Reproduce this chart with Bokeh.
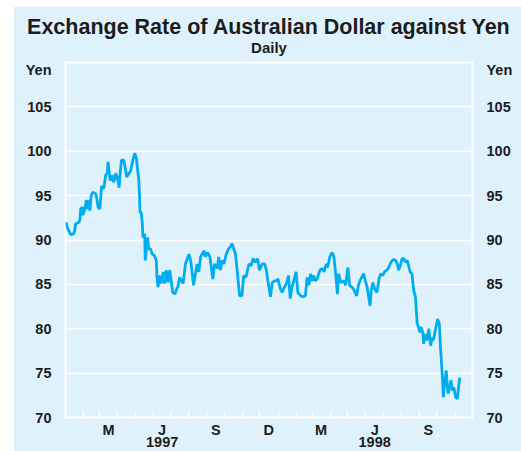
import pandas as pd
from bokeh.plotting import figure
from bokeh.layouts import column, row
from bokeh.models import Range1d, FixedTicker, LinearAxis, DatetimeAxis, ColumnDataSource, Spacer
from bokeh.embed import file_html
from bokeh.resources import INLINE

# ---------------- data ----------------
start_date = "1997-01-01"
end_date = "1998-12-01"

# days elapsed since 1 Jan 1997, and the A$ value in yen on that day
day_offset = [
    1, 3, 9, 14, 16, 17, 23, 25, 26, 29, 30, 33, 36, 37, 40, 42, 44, 47, 52, 54,
    56, 59, 62, 64, 66, 69, 72, 73, 76, 77, 80, 83, 86, 89, 92, 94, 96, 100, 103, 105,
    109, 112, 115, 119, 122, 124, 126, 127, 128, 130, 132, 133, 136, 137, 139, 141, 143, 146, 149, 152,
    156, 157, 159, 161, 164, 168, 170, 173, 176, 179, 182, 184, 188, 191, 193, 196, 199, 202, 206, 212,
    215, 220, 226, 229, 232, 238, 240, 244, 248, 253, 256, 261, 263, 266, 269, 272, 276, 280, 283, 286,
    289, 292, 296, 299, 303, 306, 310, 315, 319, 322, 326, 330, 333, 338, 342, 345, 348, 352, 355, 359,
    362, 365, 369, 372, 376, 380, 383, 386, 389, 392, 396, 399, 404, 408, 412, 415, 418, 421, 424, 426,
    429, 432, 437, 441, 444, 448, 450, 454, 458, 461, 464, 467, 469, 473, 478, 481, 485, 488, 492, 496,
    500, 503, 507, 512, 515, 518, 523, 525, 528, 531, 535, 539, 542, 545, 548, 552, 555, 559, 563, 567,
    570, 572, 575, 578, 581, 584, 587, 590, 592, 595, 598, 601, 604, 607, 608, 611, 614, 615, 618, 621,
    624, 627, 630, 632, 635, 639, 642, 644, 647, 649, 651, 654, 655, 657, 660, 662, 665, 667, 670, 673,
    675, 677,
]
aud_jpy = [
    92.0, 91.4, 90.6, 90.7, 91.1, 91.8, 92.0, 92.4, 93.5, 93.7, 92.8, 93.5, 94.5, 93.5, 94.5, 93.3, 95.0, 95.4, 95.2, 94.6,
    93.7, 93.5, 96.1, 95.8, 95.9, 97.3, 97.6, 98.8, 97.1, 96.7, 97.3, 96.5, 97.5, 97.1, 95.9, 97.6, 99.0, 99.0, 98.0, 97.1,
    97.5, 97.8, 98.8, 99.8, 99.1, 97.8, 96.7, 95.2, 93.1, 93.1, 91.8, 90.3, 90.7, 87.7, 89.0, 90.3, 89.0, 89.0, 88.4, 88.3,
    87.7, 85.8, 84.7, 86.0, 85.1, 86.4, 85.1, 86.6, 85.2, 86.6, 85.2, 84.1, 83.9, 84.5, 84.7, 85.8, 85.4, 85.1, 87.3, 88.4,
    87.7, 84.9, 87.3, 86.4, 88.1, 88.8, 88.1, 88.6, 88.1, 85.6, 87.3, 86.8, 88.1, 86.6, 87.7, 87.3, 88.4, 89.0, 89.2, 89.6,
    89.0, 88.4, 85.8, 83.7, 83.7, 86.0, 85.8, 87.3, 87.1, 87.9, 87.5, 87.9, 86.6, 87.3, 87.3, 86.6, 85.2, 83.6, 85.2, 85.4,
    85.4, 85.6, 84.5, 84.1, 84.7, 85.2, 86.0, 83.4, 84.7, 85.4, 86.4, 84.1, 83.7, 83.6, 83.7, 85.8, 84.9, 86.2, 85.4, 86.0,
    85.4, 85.6, 86.6, 86.8, 86.4, 87.3, 86.9, 88.1, 88.6, 88.1, 86.2, 83.9, 86.2, 85.2, 85.4, 84.9, 86.9, 84.9, 84.7, 84.3,
    83.7, 84.9, 85.6, 86.2, 85.4, 84.7, 82.6, 84.3, 85.2, 84.5, 84.1, 85.8, 86.2, 86.0, 86.4, 86.6, 86.9, 87.5, 87.8, 87.7,
    87.3, 86.6, 87.1, 87.9, 87.9, 87.5, 87.7, 86.9, 86.4, 86.2, 84.3, 83.6, 80.6, 80.0, 79.6, 80.2, 79.4, 78.3, 79.4, 78.7,
    80.0, 78.1, 79.0, 78.7, 79.8, 81.1, 80.6, 77.9, 74.9, 72.3, 73.8, 75.3, 74.2, 72.7, 73.4, 74.2, 73.0, 73.4, 72.3, 72.1,
    73.4, 74.5,
]

y_ticks = [70, 75, 80, 85, 90, 95, 100, 105]
y_min, y_max = 70, 110
unit_label = "Yen"
unit_label_at = 109.1          # the unit sits just under the top of the scale

month_label_text = ["M", "J", "S", "D", "M", "J", "S"]
month_label_dates = ["1997-03-16", "1997-06-16", "1997-09-16", "1997-12-16",
                     "1998-03-16", "1998-06-16", "1998-09-16"]
year_label_text = ["1997", "1998"]
year_label_dates = ["1997-06-16", "1998-06-16"]
month_tick_first, month_tick_last = "1997-02-01", "1998-11-01"

title_text = "Exchange Rate of Australian Dollar against Yen"
subtitle_text = "Daily"

# ---------------- styles ----------------
BG = "#dff2fb"
LINE = "#00aeef"
TXT = "#1c1c1c"
FONT = "Liberation Sans"
LABEL_SIZE = "14.5px"


def ms(d):
    return int(pd.Timestamp(d).value // 10**6)


t0 = pd.Timestamp(start_date)
dates = [(t0 + pd.Timedelta(days=d)).to_pydatetime() for d in day_offset]
src = ColumnDataSource(dict(date=dates, value=aud_jpy))

x_start = pd.Timestamp(start_date).to_pydatetime()
x_end = pd.Timestamp(end_date).to_pydatetime()

p = figure(width=508, height=445, x_axis_type="datetime",
           x_range=Range1d(x_start, x_end), y_range=Range1d(y_min, y_max),
           output_backend="svg", toolbar_location=None,
           min_border_left=52, min_border_right=49, min_border_top=56, min_border_bottom=34)
p.title.text = ""
p.title.visible = False
p.background_fill_color = BG
p.border_fill_color = BG
p.outline_line_color = "white"
p.outline_line_width = 2

p.line("date", "value", source=src, color=LINE, line_width=2.8)

# y axes (left + right), the unit "Yen" is an extra labelled position at the top
y_label_ticks = y_ticks + [unit_label_at]


def style_y(ax):
    ax.ticker = FixedTicker(ticks=y_label_ticks)
    ax.major_label_overrides = {unit_label_at: unit_label}
    ax.axis_line_color = None
    ax.major_tick_line_color = None
    ax.minor_tick_line_color = None
    ax.major_label_text_font = FONT
    ax.major_label_text_font_size = LABEL_SIZE
    ax.major_label_text_font_style = "bold"
    ax.major_label_text_color = TXT
    ax.major_label_standoff = 8


style_y(p.yaxis[0])
right_axis = LinearAxis()
style_y(right_axis)
p.add_layout(right_axis, "right")

p.ygrid.ticker = FixedTicker(ticks=y_ticks)
p.ygrid.grid_line_color = "white"
p.ygrid.grid_line_width = 1.7
p.xgrid.visible = False


def style_x(ax, standoff, size=LABEL_SIZE):
    ax.axis_line_color = None
    ax.major_tick_line_color = None
    ax.minor_tick_line_color = None
    ax.major_tick_in = 0
    ax.major_tick_out = 0
    ax.major_label_text_font = FONT
    ax.major_label_text_font_size = size
    ax.major_label_text_font_style = "bold"
    ax.major_label_text_color = TXT
    ax.major_label_standoff = standoff


# x axis: month-start ticks inside, letters mid-month
label_ms = [ms(d) for d in month_label_dates]
month_starts = [ms(d) for d in pd.date_range(month_tick_first, month_tick_last, freq="MS")]
xa = p.xaxis[0]
xa.ticker = FixedTicker(ticks=label_ms, minor_ticks=month_starts)
xa.major_label_overrides = {k: v for k, v in zip(label_ms, month_label_text)}
style_x(xa, 4)
xa.minor_tick_line_color = "white"
xa.minor_tick_line_width = 1.5
xa.minor_tick_in = 6
xa.minor_tick_out = 0

# second row: years
year_ms = [ms(d) for d in year_label_dates]
ya = DatetimeAxis(ticker=FixedTicker(ticks=year_ms))
ya.major_label_overrides = {k: v for k, v in zip(year_ms, year_label_text)}
style_x(ya, -4)
p.add_layout(ya, "below")

# title block above the frame: subtitle row next to the frame, title row above it
mid_ms = (ms(start_date) + ms(end_date)) // 2
sub_axis = DatetimeAxis(ticker=FixedTicker(ticks=[mid_ms]))
sub_axis.major_label_overrides = {mid_ms: subtitle_text}
style_x(sub_axis, 7, "15px")
p.add_layout(sub_axis, "above")

title_axis = DatetimeAxis(ticker=FixedTicker(ticks=[mid_ms]))
title_axis.major_label_overrides = {mid_ms: title_text}
style_x(title_axis, -3, "21.5px")
p.add_layout(title_axis, "above")

page = column(Spacer(height=6), row(Spacer(width=13), p, spacing=0), spacing=0)

open("out.html", "w").write(file_html(page, INLINE))
